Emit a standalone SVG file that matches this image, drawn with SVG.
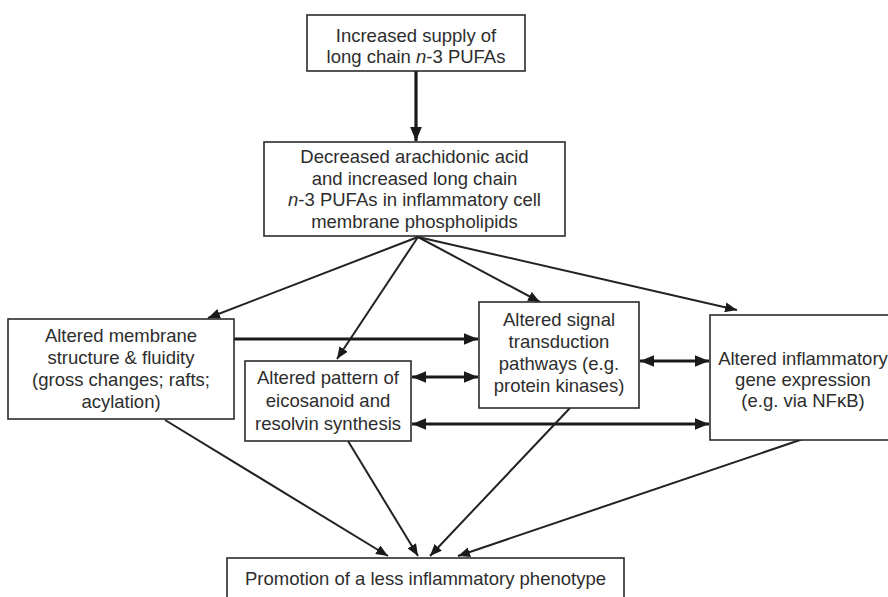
<svg xmlns="http://www.w3.org/2000/svg" width="888" height="597" viewBox="0 0 888 597">
<defs>
<style>
.box{fill:#fff;stroke:#2b2b2b;stroke-width:1.6}
.t{font-family:"Liberation Sans",Arial,sans-serif;font-size:18.5px;fill:#2d2d2d;text-anchor:middle}
.c{fill:none;stroke:#222;stroke-width:2}
.k{fill:none;stroke:#1a1a1a;stroke-width:3.2}
.i{font-style:italic}
</style>
<marker id="ah" viewBox="0 0 12 10" refX="12" refY="5" markerWidth="12" markerHeight="10" markerUnits="userSpaceOnUse" orient="auto-start-reverse">
<path d="M0,0 L12,5 L0,10 z" fill="#1a1a1a"/>
</marker>
<marker id="ahk" viewBox="0 0 12 10" refX="12" refY="5" markerWidth="14" markerHeight="12" markerUnits="userSpaceOnUse" orient="auto-start-reverse">
<path d="M0,0 L12,5 L0,10 z" fill="#1a1a1a"/>
</marker>
</defs>
<rect width="888" height="597" fill="#fff"/>
<g id="connectors">
<line class="k" x1="416" y1="71" x2="416" y2="141" marker-end="url(#ahk)"/>
<line class="c" x1="418" y1="237" x2="208" y2="318" marker-end="url(#ah)"/>
<line class="c" x1="418" y1="237" x2="337" y2="359" marker-end="url(#ah)"/>
<line class="c" x1="418" y1="237" x2="540" y2="302" marker-end="url(#ah)"/>
<line class="c" x1="418" y1="237" x2="737" y2="310" marker-end="url(#ah)"/>
<line class="k" x1="234" y1="339" x2="478" y2="339" marker-end="url(#ahk)"/>
<line class="k" x1="412" y1="377" x2="478" y2="377" marker-start="url(#ahk)" marker-end="url(#ahk)"/>
<line class="k" x1="640" y1="361" x2="709" y2="361" marker-start="url(#ahk)" marker-end="url(#ahk)"/>
<line class="k" x1="412" y1="424" x2="709" y2="424" marker-start="url(#ahk)" marker-end="url(#ahk)"/>
<line class="c" x1="165" y1="420" x2="388" y2="556" marker-end="url(#ah)"/>
<line class="c" x1="348" y1="441" x2="418" y2="556" marker-end="url(#ah)"/>
<line class="c" x1="570" y1="408" x2="430" y2="556" marker-end="url(#ah)"/>
<line class="c" x1="803" y1="439" x2="458" y2="556" marker-end="url(#ah)"/>
</g>
<g id="supply">
<rect class="box" x="307" y="15" width="218" height="56"/>
<text class="t" x="416" y="42">Increased supply of</text>
<text class="t" x="416" y="63">long chain <tspan class="i">n</tspan>-3 PUFAs</text>
</g>
<g id="membrane-pl">
<rect class="box" x="264" y="142" width="301" height="94"/>
<text class="t" x="414.5" y="163">Decreased arachidonic acid</text>
<text class="t" x="414.5" y="184.5">and increased long chain</text>
<text class="t" x="414.5" y="206"><tspan class="i">n</tspan>-3 PUFAs in inflammatory cell</text>
<text class="t" x="414.5" y="227.5">membrane phospholipids</text>
</g>
<g id="membrane-structure">
<rect class="box" x="8" y="319" width="226" height="100"/>
<text class="t" x="121" y="342">Altered membrane</text>
<text class="t" x="121" y="364">structure &amp; fluidity</text>
<text class="t" x="121" y="386">(gross changes; rafts;</text>
<text class="t" x="121" y="408">acylation)</text>
</g>
<g id="eicosanoid">
<rect class="box" x="245" y="361" width="166" height="80"/>
<text class="t" x="328" y="384">Altered pattern of</text>
<text class="t" x="328" y="407">eicosanoid and</text>
<text class="t" x="328" y="429.5">resolvin synthesis</text>
</g>
<g id="signal">
<rect class="box" x="479" y="302" width="160" height="106"/>
<text class="t" x="559" y="326">Altered signal</text>
<text class="t" x="559" y="348">transduction</text>
<text class="t" x="559" y="370">pathways (e.g.</text>
<text class="t" x="559" y="392">protein kinases)</text>
</g>
<g id="gene">
<rect class="box" x="710" y="315" width="190" height="125"/>
<text class="t" x="803" y="365">Altered inflammatory</text>
<text class="t" x="803" y="386">gene expression</text>
<text class="t" x="803" y="407">(e.g. via NFκB)</text>
</g>
<g id="phenotype">
<rect class="box" x="227" y="558" width="397" height="50"/>
<text class="t" x="425.5" y="585">Promotion of a less inflammatory phenotype</text>
</g>
</svg>
